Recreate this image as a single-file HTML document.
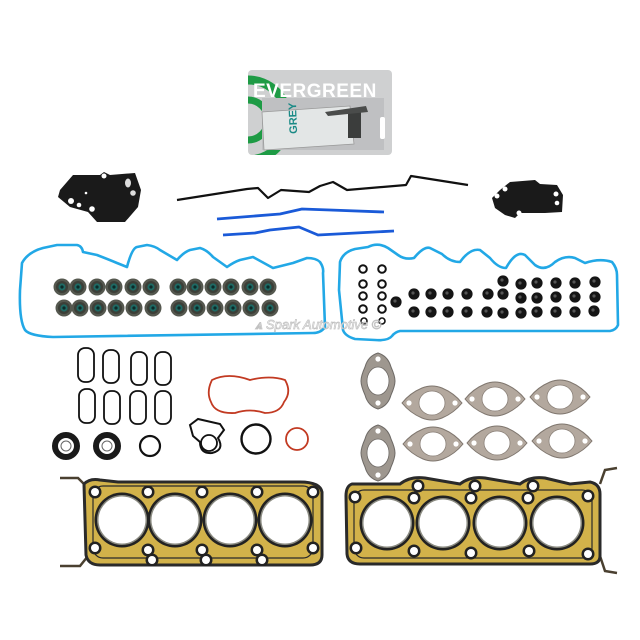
<!DOCTYPE html>
<html><head><meta charset="utf-8"><style>
html,body{margin:0;padding:0;background:#fff;width:640px;height:640px;overflow:hidden}
svg{display:block}
</style></head><body>
<svg width="640" height="640" viewBox="0 0 640 640" xmlns="http://www.w3.org/2000/svg" font-family="Liberation Sans, sans-serif">
<rect width="640" height="640" fill="#fff"/>
<defs>
<clipPath id="card"><rect x="248" y="70" width="144" height="85" rx="4"/></clipPath>
<g id="seal"><circle r="8.5" fill="#55584f"/><circle r="6" fill="#3c3f38"/><circle r="3.6" fill="#1f6a64"/><circle r="1.6" fill="#0c2a28"/></g>
<g id="dot"><circle r="5.6" fill="#151515"/><circle r="1.6" cx="-1" cy="-1" fill="#555"/></g>
<g id="ex"><path d="M-30,0 Q-22,-10 -10,-15 Q0,-19 10,-15 Q22,-10 30,0 Q22,10 10,15 Q0,19 -10,15 Q-22,10 -30,0Z" fill="#b3a89e" stroke="#7f766e" stroke-width="1"/><ellipse rx="13" ry="12" fill="#fff" stroke="#8a8078" stroke-width="0.8"/><circle cx="-23" r="2.6" fill="#fff"/><circle cx="23" r="2.6" fill="#fff"/></g>
<g id="exv"><path d="M0,-28 Q10,-25 13,-14 Q17,-5 17,0 Q17,5 13,14 Q10,25 0,28 Q-10,25 -13,14 Q-17,5 -17,0 Q-17,-5 -13,-14 Q-10,-25 0,-28Z" fill="#9e978f" stroke="#6e6a66" stroke-width="1"/><ellipse rx="11" ry="14" fill="#fff" stroke="#6e6a66" stroke-width="0.8"/><circle cy="-22" r="2.6" fill="#fff"/><circle cy="22" r="2.6" fill="#fff"/></g>
<g id="bore"><circle r="27.5" fill="#222"/><circle r="25" fill="#8a8a80"/><circle r="23.5" fill="#fff"/></g>
<g id="bolt"><circle r="6.5" fill="#222"/><circle r="4" fill="#fff"/></g>
</defs>

<g clip-path="url(#card)">
<rect x="248" y="70" width="144" height="85" fill="#cfd0d1"/>
<circle cx="248" cy="120" r="40" fill="none" stroke="#1e9b45" stroke-width="9"/>
<circle cx="248" cy="120" r="20" fill="none" stroke="#1e9b45" stroke-width="7"/>
<rect x="262" y="98" width="122" height="52" fill="#bfc0c2"/>
</g>
<text x="253" y="97" font-size="19" font-weight="bold" fill="#fff" letter-spacing="0.5">EVERGREEN</text>
<path d="M262,112 L350,106 L354,144 L264,150Z" fill="#e3e6e6" stroke="#999" stroke-width="0.8"/>
<text x="285" y="138" font-size="11" font-weight="bold" fill="#1a8a86" transform="rotate(-92 289 130)">GREY</text>
<rect x="348" y="110" width="13" height="28" fill="#3b3d3c"/>
<path d="M325,112 L366,106 L368,112 L328,116Z" fill="#4a4c4b"/>
<rect x="380" y="117" width="5" height="22" rx="2" fill="#fff"/>

<path d="M60,190 L73,175 L100,175 L104,172 L110,175 L135,173 L141,190 L138,207 L125,222 L97,222 L88,212 L70,207 L58,197Z" fill="#1a1a1a"/>
<circle cx="104" cy="176" r="2.5" fill="#fff"/><ellipse cx="128" cy="183" rx="3" ry="4.5" fill="#ddd"/><circle cx="133" cy="193" r="2.8" fill="#ddd"/><circle cx="71" cy="201" r="3" fill="#fff"/><circle cx="79" cy="205" r="2.3" fill="#fff"/><circle cx="92" cy="209" r="2.8" fill="#fff"/><circle cx="86" cy="193" r="1.3" fill="#fff"/>
<path d="M492,198 L500,190 L510,182 L535,180 L540,184 L557,185 L563,195 L562,212 L545,213 L520,213 L515,218 L505,215 L495,208Z" fill="#1a1a1a"/>
<circle cx="497" cy="196" r="2.5" fill="#fff"/><circle cx="505" cy="189" r="2.5" fill="#fff"/><circle cx="556" cy="194" r="2.5" fill="#fff"/><circle cx="557" cy="203" r="2.3" fill="#fff"/><circle cx="519" cy="213" r="2.5" fill="#fff"/>

<path d="M177,200 L247,189 L258,188 L268,198 L281,190 L309,192 L320,186 L333,182 L347,190 L406,185 L411,176 L468,185" fill="none" stroke="#111" stroke-width="2.2" stroke-linejoin="round"/>
<path d="M217,219 L280,214 L302,209 L330,210 L384,212" fill="none" stroke="#1a5ad8" stroke-width="2.8" stroke-linejoin="round"/>
<path d="M223,235 L255,233 L270,230 L299,227 L318,235 L394,231" fill="none" stroke="#1a5ad8" stroke-width="2.8" stroke-linejoin="round"/>

<path d="M22,263 Q28,252 43,248 L57,245 L77,245 Q82,246 83,252 L97,255 Q110,260 117,263 L127,267 Q132,248 137,247 L147,245 Q155,246 160,250 L177,260 Q184,252 190,250 L200,248 Q207,250 213,257 L227,267 Q234,262 240,260 L253,257 Q262,262 273,268 L293,263 L307,258 Q316,258 320,262 Q324,268 323,273 L325,327 Q321,333 313,333 L53,337 Q30,336 25,330 Q19,320 20,290 Z" fill="none" stroke="#22a8e6" stroke-width="2.6" stroke-linejoin="round"/>
<path d="M340,262 Q343,252 355,249 L368,247 Q378,242 388,248 L398,255 Q405,260 414,258 Q424,246 430,248 L442,254 Q450,262 460,262 Q470,248 480,250 L490,258 Q498,268 506,268 Q516,250 525,255 L535,265 Q545,272 555,262 Q565,255 575,258 L585,263 Q600,258 612,262 Q617,268 617,275 L618,325 Q616,330 610,331 L400,331 Q395,332 392,336 Q388,341 375,340 L355,339 Q345,336 343,330 L339,290 Z" fill="none" stroke="#22a8e6" stroke-width="2.6" stroke-linejoin="round"/>

<g>
<use href="#seal" x="62" y="287"/><use href="#seal" x="78" y="287"/><use href="#seal" x="97" y="287"/><use href="#seal" x="114" y="287"/><use href="#seal" x="133" y="287"/><use href="#seal" x="151" y="287"/><use href="#seal" x="178" y="287"/><use href="#seal" x="195" y="287"/><use href="#seal" x="213" y="287"/><use href="#seal" x="231" y="287"/><use href="#seal" x="250" y="287"/><use href="#seal" x="268" y="287"/>
<use href="#seal" x="64" y="308"/><use href="#seal" x="80" y="308"/><use href="#seal" x="98" y="308"/><use href="#seal" x="116" y="308"/><use href="#seal" x="134" y="308"/><use href="#seal" x="153" y="308"/><use href="#seal" x="179" y="308"/><use href="#seal" x="197" y="308"/><use href="#seal" x="215" y="308"/><use href="#seal" x="233" y="308"/><use href="#seal" x="251" y="308"/><use href="#seal" x="270" y="308"/>
</g>
<g fill="none" stroke="#111" stroke-width="2">
<circle cx="363" cy="269" r="3.8"/><circle cx="382" cy="269" r="3.8"/>
<circle cx="363" cy="284" r="3.8"/><circle cx="382" cy="284" r="3.8"/>
<circle cx="363" cy="296" r="3.8"/><circle cx="382" cy="296" r="3.8"/>
<circle cx="363" cy="309" r="3.8"/><circle cx="382" cy="309" r="3.8"/>
<circle cx="364" cy="321" r="3" stroke-width="1.6"/><circle cx="382" cy="321" r="3" stroke-width="1.6"/>
</g>
<g>
<use href="#dot" x="396" y="302"/>
<use href="#dot" x="414" y="294"/><use href="#dot" x="431" y="294"/><use href="#dot" x="448" y="294"/><use href="#dot" x="467" y="294"/><use href="#dot" x="488" y="294"/><use href="#dot" x="503" y="294"/>
<use href="#dot" x="414" y="312"/><use href="#dot" x="431" y="312"/><use href="#dot" x="448" y="312"/><use href="#dot" x="467" y="312"/><use href="#dot" x="487" y="312"/><use href="#dot" x="503" y="313"/>
<use href="#dot" x="503" y="281"/>
<use href="#dot" x="521" y="284"/><use href="#dot" x="537" y="283"/><use href="#dot" x="556" y="283"/><use href="#dot" x="575" y="283"/><use href="#dot" x="595" y="282"/>
<use href="#dot" x="521" y="298"/><use href="#dot" x="537" y="298"/><use href="#dot" x="556" y="297"/><use href="#dot" x="575" y="297"/><use href="#dot" x="595" y="297"/>
<use href="#dot" x="521" y="313"/><use href="#dot" x="537" y="312"/><use href="#dot" x="556" y="312"/><use href="#dot" x="575" y="312"/><use href="#dot" x="594" y="311"/>
</g>
<text x="255" y="329" font-size="13" font-style="italic" fill="#fff" stroke="#bbb" stroke-width="0.7" opacity="0.9">⩓ Spark Automotive ©</text>

<g fill="none" stroke="#111" stroke-width="1.8">
<rect x="78" y="348" width="16" height="34" rx="7"/><rect x="103" y="350" width="16" height="33" rx="7"/><rect x="131" y="352" width="16" height="33" rx="7"/><rect x="155" y="352" width="16" height="33" rx="7"/>
<rect x="79" y="389" width="16" height="34" rx="7"/><rect x="104" y="391" width="16" height="33" rx="7"/><rect x="130" y="391" width="16" height="33" rx="7"/><rect x="155" y="391" width="16" height="33" rx="7"/>
</g>
<circle cx="66" cy="446" r="11" fill="none" stroke="#1a1a1a" stroke-width="6"/>
<circle cx="107" cy="446" r="11" fill="none" stroke="#1a1a1a" stroke-width="6"/>
<circle cx="66" cy="446" r="5" fill="none" stroke="#666" stroke-width="1"/>
<circle cx="107" cy="446" r="5" fill="none" stroke="#666" stroke-width="1"/>
<circle cx="150" cy="446" r="10" fill="none" stroke="#111" stroke-width="2.2"/>
<path d="M212,380 Q228,372 250,380 Q270,375 285,380 Q292,392 284,402 Q280,413 265,413 Q250,408 235,413 Q215,414 211,402 Q206,392 212,380Z" fill="none" stroke="#c23a22" stroke-width="1.8"/>
<path d="M190,425 L198,419 L220,424 L224,430 L218,438 Q225,450 212,453 Q200,454 200,442 L193,436 Z" fill="none" stroke="#111" stroke-width="2"/>
<circle cx="209" cy="443" r="8" fill="none" stroke="#111" stroke-width="1.8"/>
<circle cx="256" cy="439" r="14.5" fill="none" stroke="#111" stroke-width="2.4"/>
<circle cx="297" cy="439" r="11" fill="none" stroke="#c23a22" stroke-width="1.8"/>

<use href="#exv" x="378" y="381"/>
<use href="#exv" x="378" y="453"/>
<use href="#ex" x="432" y="403"/><use href="#ex" x="495" y="399"/><use href="#ex" x="560" y="397"/>
<use href="#ex" x="433" y="444"/><use href="#ex" x="497" y="443"/><use href="#ex" x="562" y="441"/>

<path d="M60,478 L78,478 L88,488 M60,566 L80,566 L88,556" fill="none" stroke="#4a4030" stroke-width="2.5"/>
<path d="M84,484 Q90,478 100,480 L118,482 L300,482 Q320,482 322,492 L322,555 Q322,565 310,565 L100,565 Q88,565 86,555 Z" fill="#d2b24a" stroke="#2a2a2a" stroke-width="3"/>
<rect x="93" y="486" width="220" height="72" rx="10" fill="none" stroke="#2a2a2a" stroke-width="1.2"/>
<use href="#bore" x="122" y="520"/><use href="#bore" x="175" y="520"/><use href="#bore" x="230" y="520"/><use href="#bore" x="285" y="520"/>
<use href="#bolt" x="95" y="492"/><use href="#bolt" x="148" y="492"/><use href="#bolt" x="202" y="492"/><use href="#bolt" x="257" y="492"/><use href="#bolt" x="313" y="492"/>
<use href="#bolt" x="95" y="548"/><use href="#bolt" x="148" y="550"/><use href="#bolt" x="202" y="550"/><use href="#bolt" x="257" y="550"/><use href="#bolt" x="313" y="548"/>
<use href="#bolt" x="152" y="560"/><use href="#bolt" x="206" y="560"/><use href="#bolt" x="262" y="560"/>

<path d="M617,468 L605,470 L600,484 M617,573 L605,571 L600,556" fill="none" stroke="#4a4030" stroke-width="2.5"/>
<path d="M352,484 L400,484 Q410,476 425,478 L460,484 Q470,476 485,478 L520,484 Q530,476 545,478 L570,484 L590,482 Q600,484 600,494 L600,556 Q600,564 590,564 L360,564 Q348,564 347,554 L346,496 Q346,486 352,484Z" fill="#d2b24a" stroke="#2a2a2a" stroke-width="3"/>
<rect x="354" y="490" width="238" height="68" rx="10" fill="none" stroke="#2a2a2a" stroke-width="1.2"/>
<use href="#bore" x="387" y="523"/><use href="#bore" x="443" y="523"/><use href="#bore" x="500" y="523"/><use href="#bore" x="557" y="523"/>
<use href="#bolt" x="418" y="486"/><use href="#bolt" x="475" y="486"/><use href="#bolt" x="533" y="486"/>
<use href="#bolt" x="414" y="498"/><use href="#bolt" x="471" y="498"/><use href="#bolt" x="528" y="498"/>
<use href="#bolt" x="355" y="497"/><use href="#bolt" x="588" y="496"/>
<use href="#bolt" x="356" y="548"/><use href="#bolt" x="414" y="551"/><use href="#bolt" x="471" y="553"/><use href="#bolt" x="529" y="551"/><use href="#bolt" x="588" y="554"/>
</svg>
</body></html>
